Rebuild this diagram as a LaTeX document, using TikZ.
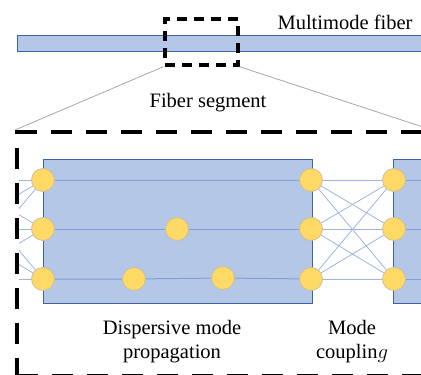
\documentclass[tikz,border=0pt]{standalone}
\usepackage{fontspec}
\setmainfont{Liberation Serif}
\usepackage{xcolor}
\usetikzlibrary{positioning}

\definecolor{fiberblue}{HTML}{B4C7E7}
\definecolor{edgeblue}{HTML}{3F62A3}
\definecolor{rowblue}{HTML}{7F9FD6}
\definecolor{linkblue}{HTML}{9DB3E0}
\definecolor{modegold}{HTML}{FFD966}
\definecolor{modeedge}{HTML}{CDBF96}
\definecolor{zoomgray}{HTML}{A6A6A6}

\begin{document}
\begin{tikzpicture}[
    x=1pt, y=-1pt,
    section/.style={rectangle, draw=edgeblue, line width=0.9pt, fill=fiberblue, inner sep=0pt},
    mode/.style={circle, draw=modeedge, line width=0.8pt, fill=modegold, minimum size=23pt, inner sep=0pt},
    window/.style={rectangle, draw=black, line width=3.5pt, dash pattern=on 10pt off 7pt, inner sep=0pt},
    segbox/.style={rectangle, draw=black, line width=4pt, dash pattern=on 21pt off 14pt, inner sep=0pt},
    txt/.style={font=\fontsize{20.5}{24}\selectfont, align=center, inner sep=0pt},
    rowline/.style={draw=rowblue, line width=1pt},
    link/.style={draw=linkblue, line width=0.8pt},
    zoomline/.style={draw=zoomgray, line width=0.8pt}
]
\useasboundingbox (0,0) rectangle (421,375);
\clip (0,0) rectangle (421,375);

% Multimode fiber
\node[section, minimum width=426pt, minimum height=16pt] (fiber) at (230,43) {};
\node[txt, anchor=base] (fiberlabel) at (345,29) {Multimode fiber};

% Window on the fiber
\node[window, minimum width=73pt, minimum height=46pt] (win) at (201.5,42) {};

% Fiber segment (zoomed)
\node[segbox, minimum width=413pt, minimum height=243.5pt] (seg) at (223.5,253.75) {};
\draw[zoomline] (win.south west) -- (seg.north west);
\draw[zoomline] (win.south east) -- (seg.north east);
\node[txt, anchor=base] (seglabel) at (208,107) {Fiber segment};

% Propagation sections
\node[section, minimum width=269pt, minimum height=144pt] (sec1) at (177.5,231) {};
\node[section, minimum width=100pt, minimum height=144pt] (sec2) at (443,231) {};

% Modes
\node[mode] (a1) at (43,180) {};
\node[mode] (a2) at (43,229) {};
\node[mode] (a3) at (43,279) {};
\node[mode] (s2) at (177,229) {};
\node[mode] (s3) at (134,279) {};
\node[mode] (t3) at (223,278) {};
\node[mode] (b1) at (311,180) {};
\node[mode] (b2) at (311,229) {};
\node[mode] (b3) at (311,279) {};
\node[mode] (c1) at (394,180) {};
\node[mode] (c2) at (394,229) {};
\node[mode] (c3) at (394,279) {};

% Loose ends
\coordinate (q1) at (-40,180);
\coordinate (q2) at (-40,229);
\coordinate (q3) at (-40,279);
\coordinate (r1) at (440,180);
\coordinate (r2) at (440,229);
\coordinate (r3) at (440,279);

% Dispersive propagation
\draw[rowline] (a1) -- (b1);
\draw[rowline] (a2) -- (s2) -- (b2);
\draw[rowline] (a3) -- (s3) -- (t3) -- (b3);
\foreach \i in {1,2,3}
    \draw[rowline] (c\i) -- (r\i);

% Mode coupling
\foreach \i in {1,2,3}
    \foreach \j in {1,2,3}
        \draw[link] (b\i) -- (c\j);
\begin{scope}
    \clip (19,0) rectangle (421,375);
    \foreach \i in {1,2,3}
        \foreach \j in {1,2,3}
            \draw[link] (q\i) -- (a\j);
\end{scope}

% Labels
\node[txt] (proplabel) at (172,341.5) {Dispersive mode\\propagation};
\node[txt] (couplabel) at (352,341.5) {Mode\\couplin$g$};

\end{tikzpicture}
\end{document}
